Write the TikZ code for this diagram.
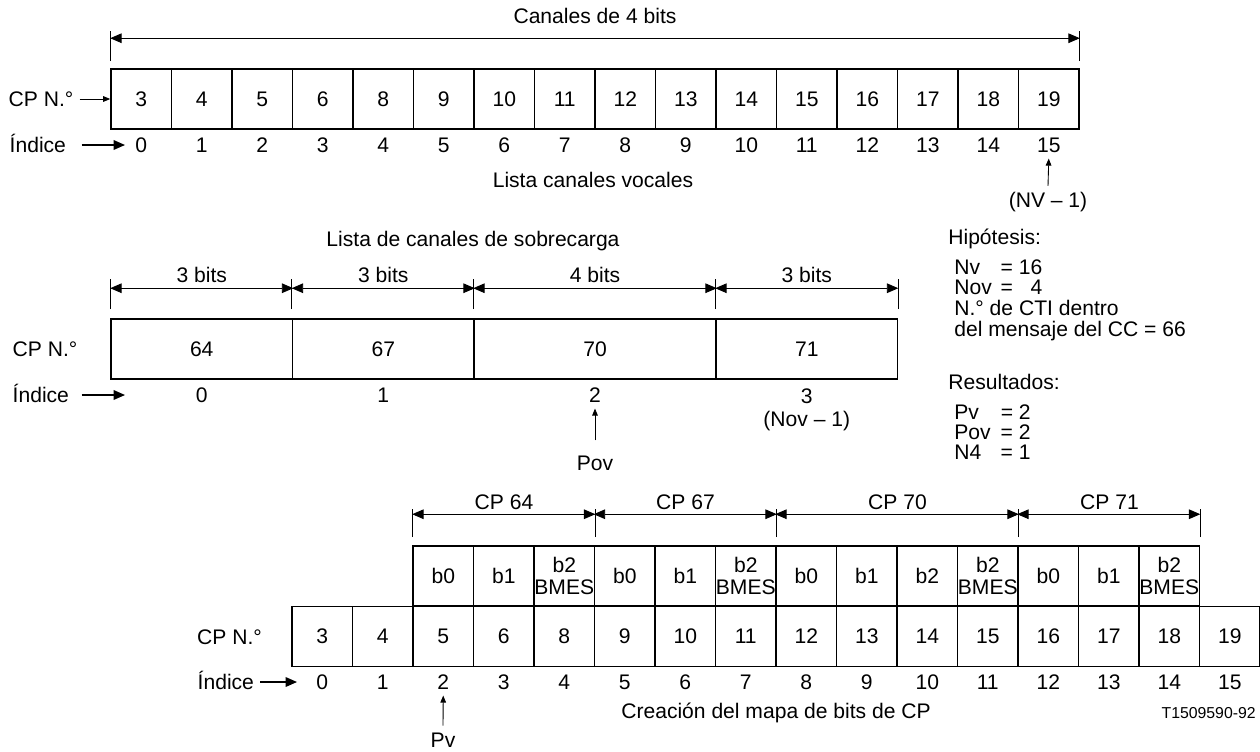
\documentclass[tikz,border=0pt]{standalone}
\usepackage{fontspec}
\setmainfont{Liberation Sans}
\usetikzlibrary{arrows.meta, positioning}

\tikzset{
  cell/.style={draw, line width=0.9pt, minimum width=1.21cm, minimum height=1.2cm,
               inner sep=0pt, align=center, font=\fontsize{12}{12.5}\selectfont},
  txt/.style={font=\fontsize{12}{14}\selectfont},
  idxlbl/.style={txt, anchor=west, text height=8.6pt, text depth=0pt},
  note/.style={txt, anchor=base west, inner sep=0pt},
  dim/.style={line width=0.5pt, {Triangle[length=6.5pt,width=5.5pt]}-{Triangle[length=6.5pt,width=5.5pt]}},
  ext/.style={line width=0.5pt},
  ptr/.style={line width=0.8pt, -{Triangle[length=6.5pt,width=5.5pt]}},
  tinyptr/.style={line width=0.5pt, -{Triangle[length=4pt,width=3.2pt]}}
}

\begin{document}
\begin{tikzpicture}[x=0.02cm, y=-0.02cm]
  \useasboundingbox (0,0) rectangle (1260,751);

  % Lista canales vocales
  \foreach \n [count=\i from 0] in {3,4,5,6,8,9,10,11,12,13,14,15,16,17,18,19} {
    \node[cell] (v\i) at ({141.25+60.5*\i},99) {\n};
    \node[txt] (vi\i) at ({141.25+60.5*\i},145) {\i};
  }
  \node[txt, anchor=west] (tcp) at (2.5,99) {CP N.°};
  \node[idxlbl] (tidx) at (3.5,145) {Índice};
  \coordinate (tend) at (125,145);
  \draw[tinyptr] (tcp.east) -- (v0.west);
  \draw[ptr] ([xshift=0.19cm]tidx.east) -- (tend);
  \node[txt] (vlist) at (593,180) {Lista canales vocales};

  % Canales de 4 bits
  \draw[ext] ([yshift=0.14cm]v0.north west) -- ++(0,-30);
  \draw[ext] ([yshift=0.14cm]v15.north east) -- ++(0,-30);
  \draw[dim] ([yshift=0.6cm]v0.north west) -- ([yshift=0.6cm]v15.north east);
  \node[txt] (vbits) at (595,16) {Canales de 4 bits};

  % (NV - 1)
  \node[txt] (nv) at (1048,202) {(NV – 1)};
  \draw[tinyptr] (nv.north) -- (vi15.south);

  % Lista de canales de sobrecarga
  \node[txt] (olist) at (473,241) {Lista de canales de sobrecarga};
  \node[cell, minimum width=3.63cm] (o0) at (201.75,349) {64};
  \node[cell, minimum width=3.63cm] (o1) at (383.25,349) {67};
  \node[cell, minimum width=4.84cm] (o2) at (595,349) {70};
  \node[cell, minimum width=3.63cm] (o3) at (806.75,349) {71};
  \node[txt] (oi0) at (201.75,395) {0};
  \node[txt] (oi1) at (383.25,395) {1};
  \node[txt] (oi2) at (595,395) {2};
  \node[txt] (oi3) at (806.75,396) {3};
  \node[txt] (onov) at (806.75,421) {(Nov – 1)};
  \node[txt, anchor=west] (ocp) at (6.5,349) {CP N.°};
  \node[idxlbl] (oidx) at (6.5,395) {Índice};
  \coordinate (oend) at (125,395);
  \draw[ptr] ([xshift=0.13cm]oidx.east) -- (oend);
  \node[txt] (pov) at (595,463) {Pov};
  \draw[tinyptr] ([yshift=0.18cm]pov.north) -- (oi2.south);

  % bits por canal
  \foreach \c in {o0,o1,o2,o3} {
    \draw[ext] ([yshift=0.18cm]\c.north west) -- ++(0,-30);
  }
  \draw[ext] ([yshift=0.18cm]o3.north east) -- ++(0,-30);
  \draw[dim] ([yshift=0.6cm]o0.north west) -- ([yshift=0.6cm]o0.north east);
  \draw[dim] ([yshift=0.6cm]o1.north west) -- ([yshift=0.6cm]o1.north east);
  \draw[dim] ([yshift=0.6cm]o2.north west) -- ([yshift=0.6cm]o2.north east);
  \draw[dim] ([yshift=0.6cm]o3.north west) -- ([yshift=0.6cm]o3.north east);
  \node[txt] (ob0) at (201.75,275) {3 bits};
  \node[txt] (ob1) at (383.25,275) {3 bits};
  \node[txt] (ob2) at (595,275) {4 bits};
  \node[txt] (ob3) at (806.75,275) {3 bits};

  % Hipotesis y resultados
  \node[note] (hyp) at (948,244.5) {Hipótesis:};
  \node[note] (h1) at (954,274.5) {\makebox[2.2em][l]{Nv}= 16};
  \node[note] (h2) at (954,294.5) {\makebox[2.2em][l]{Nov}= \phantom{1}4};
  \node[note] (h3) at (954,315.5) {N.° de CTI dentro};
  \node[note] (h4) at (954,336.5) {del mensaje del CC = 66};
  \node[note] (res) at (948,389.5) {Resultados:};
  \node[note] (r1) at (954,419.5) {\makebox[2.2em][l]{Pv}= 2};
  \node[note] (r2) at (954,439.5) {\makebox[2.2em][l]{Pov}= 2};
  \node[note] (r3) at (954,459.5) {\makebox[2.2em][l]{N4}= 1};

  % Creacion del mapa de bits de CP
  \foreach \n [count=\i from 0] in {3,4,5,6,8,9,10,11,12,13,14,15,16,17,18,19} {
    \node[cell] (w\i) at ({322.25+60.5*\i},636.5) {\n};
    \node[txt] (wi\i) at ({322.25+60.5*\i},682) {\i};
  }
  \foreach \t [count=\i from 2] in {b0,b1,{b2\\BMES},b0,b1,{b2\\BMES},b0,b1,b2,{b2\\BMES},b0,b1,{b2\\BMES}} {
    \node[cell] (b\i) at ({322.25+60.5*\i},576) {\t};
  }
  \node[txt, anchor=west] (bcp) at (191,637) {CP N.°};
  \node[idxlbl] (bidx) at (191.5,682) {Índice};
  \coordinate (bend) at (297,682);
  \draw[ptr] (bidx.east) -- (bend);
  \node[txt] (pv) at (443,740) {Pv};
  \draw[tinyptr] ([yshift=0.02cm]pv.north) -- (wi2.south);
  \node[txt] (bmap) at (776,713) {Creación del mapa de bits de CP};
  \node[anchor=east, inner sep=0pt, font=\fontsize{9}{10}\selectfont] (fig) at (1256,713) {T1509590-92};

  % CP de sobrecarga
  \draw[ext] ([yshift=0.16cm]b2.north west) -- ++(0,-28);
  \foreach \c in {b4,b7,b11,b14} {
    \draw[ext] ([yshift=0.16cm]\c.north east) -- ++(0,-28);
  }
  \draw[dim] ([yshift=0.62cm]b2.north west) -- ([yshift=0.62cm]b4.north east);
  \draw[dim] ([yshift=0.62cm]b5.north west) -- ([yshift=0.62cm]b7.north east);
  \draw[dim] ([yshift=0.62cm]b8.north west) -- ([yshift=0.62cm]b11.north east);
  \draw[dim] ([yshift=0.62cm]b12.north west) -- ([yshift=0.62cm]b14.north east);
  \node[txt] (c64) at (504,502) {CP 64};
  \node[txt] (c67) at (685.5,502) {CP 67};
  \node[txt] (c70) at (897.5,502) {CP 70};
  \node[txt] (c71) at (1109.5,502) {CP 71};
\end{tikzpicture}
\end{document}
